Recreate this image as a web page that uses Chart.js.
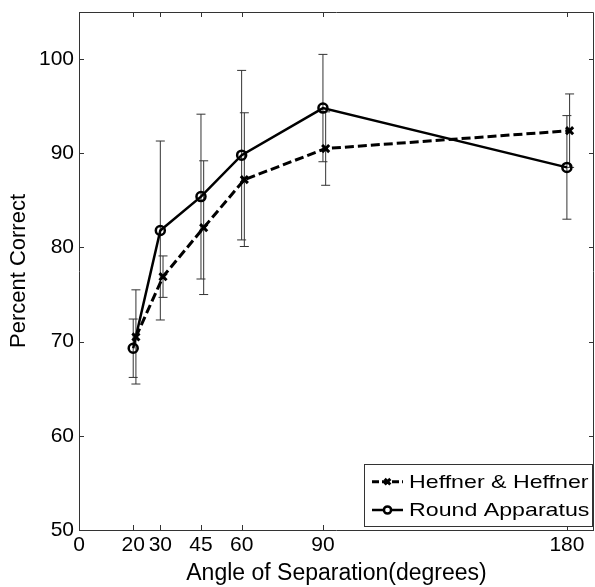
<!DOCTYPE html>
<html>
<head>
<meta charset="utf-8">
<script src="https://cdn.jsdelivr.net/npm/chart.js@4.4.0/dist/chart.umd.min.js"></script>
<style>
  html, body { margin: 0; padding: 0; background: #fff; }
  #wrap { width: 595px; height: 587px; }
</style>
</head>
<body>
<div id="wrap"><canvas id="chart" width="595" height="587"></canvas></div>
<script>
// angles tested (degrees)
const angles = [20, 30, 45, 60, 90, 180];
// Heffner points sit slightly right of the tick in the original figure
const heffnerX = [21, 31, 46, 61, 91, 181];
const heffner = [70.5, 76.9, 82.1, 87.2, 90.5, 92.4];
const heffnerErr = [5.0, 2.2, 7.1, 7.1, 3.9, 3.9];
const roundApp = [69.3, 81.8, 85.4, 89.8, 94.8, 88.5];
const roundErr = [3.1, 9.5, 8.75, 9.0, 5.7, 5.5];

const xTicks = [0, 20, 30, 45, 60, 90, 180];
const yTicks = [50, 60, 70, 80, 90, 100];

const FONT = "'Liberation Sans', Arial, sans-serif";

// error bars, drawn under the lines
const errorBars = {
  id: 'errorBars',
  beforeDatasetsDraw(chart) {
    const ctx = chart.ctx;
    const y = chart.scales.y;
    ctx.save();
    ctx.strokeStyle = '#333';
    ctx.lineWidth = 1;
    chart.data.datasets.forEach((ds, i) => {
      const meta = chart.getDatasetMeta(i);
      meta.data.forEach((pt, j) => {
        const v = ds.data[j].y, e = ds.errors[j];
        const top = y.getPixelForValue(v + e);
        const bot = y.getPixelForValue(v - e);
        const px = pt.x;
        ctx.beginPath();
        ctx.moveTo(px, top); ctx.lineTo(px, bot);
        ctx.moveTo(px - 4.5, top); ctx.lineTo(px + 4.5, top);
        ctx.moveTo(px - 4.5, bot); ctx.lineTo(px + 4.5, bot);
        ctx.stroke();
      });
    });
    ctx.restore();
  }
};

// box around the plot with inward ticks on all four sides
const frame = {
  id: 'frame',
  afterDraw(chart) {
    const ctx = chart.ctx;
    const a = chart.chartArea;
    const xs = chart.scales.x, ys = chart.scales.y;
    const len = 5;
    ctx.save();
    ctx.strokeStyle = '#333';
    ctx.lineWidth = 1;
    ctx.beginPath();
    ctx.rect(a.left + 0.5, a.top + 0.5, a.right - a.left - 1, a.bottom - a.top);
    xTicks.forEach(v => {
      const px = Math.round(xs.getPixelForValue(v)) + 0.5;
      ctx.moveTo(px, a.bottom); ctx.lineTo(px, a.bottom - len);
      ctx.moveTo(px, a.top); ctx.lineTo(px, a.top + len);
    });
    yTicks.forEach(v => {
      const py = Math.round(ys.getPixelForValue(v)) + 0.5;
      ctx.moveTo(a.left, py); ctx.lineTo(a.left + len, py);
      ctx.moveTo(a.right, py); ctx.lineTo(a.right - len, py);
    });
    ctx.stroke();
    ctx.restore();
  }
};

// legend box in the lower right corner of the plot
const boxLegend = {
  id: 'boxLegend',
  afterDraw(chart) {
    const ctx = chart.ctx;
    const a = chart.chartArea;
    const w = 228, h = 62;
    const bx = a.right - 2 - w, by = a.bottom - 4 - h;
    ctx.save();
    ctx.fillStyle = '#fff';
    ctx.fillRect(bx, by, w, h);
    ctx.strokeStyle = '#333';
    ctx.lineWidth = 1;
    ctx.strokeRect(bx + 0.5, by + 0.5, w, h);
    const rows = [by + 17.7, by + 46];
    chart.data.datasets.forEach((ds, i) => {
      const ry = rows[i];
      ctx.save();
      ctx.strokeStyle = '#000';
      ctx.lineWidth = ds.borderWidth;
      ctx.setLineDash(ds.legendDash || []);
      ctx.beginPath();
      ctx.moveTo(bx + 8, ry); ctx.lineTo(bx + 39, ry);
      ctx.stroke();
      ctx.setLineDash([]);
      ctx.lineWidth = ds.pointBorderWidth;
      ctx.fillStyle = '#fff';
      Chart.helpers.drawPoint(ctx, {
        pointStyle: ds.pointStyle, radius: ds.pointRadius * 0.8, rotation: 0, borderWidth: ds.pointBorderWidth
      }, bx + 23.5, ry);
      ctx.restore();

      ctx.save();
      ctx.fillStyle = '#000';
      ctx.font = '19px ' + FONT;
      ctx.textBaseline = 'middle';
      ctx.translate(bx + 45, ry + 1);
      ctx.scale(1.22, 1);
      ctx.fillText(ds.label, 0, 0);
      ctx.restore();
    });
    ctx.restore();
  }
};

new Chart(document.getElementById('chart'), {
  type: 'line',
  data: {
    datasets: [
      {
        label: 'Heffner & Heffner',
        data: heffnerX.map((x, i) => ({ x: x, y: heffner[i] })),
        errors: heffnerErr,
        borderColor: '#000',
        backgroundColor: '#000',
        borderWidth: 3,
        borderDash: [9, 4],
        legendDash: [7, 3],
        pointStyle: 'crossRot',
        pointRadius: 5,
        pointBorderWidth: 3,
        pointBorderColor: '#000',
        tension: 0
      },
      {
        label: 'Round Apparatus',
        data: angles.map((x, i) => ({ x: x, y: roundApp[i] })),
        errors: roundErr,
        borderColor: '#000',
        backgroundColor: 'rgba(0,0,0,0)',
        borderWidth: 2.5,
        pointStyle: 'circle',
        pointRadius: 4.5,
        pointBorderWidth: 2.5,
        pointBorderColor: '#000',
        pointBackgroundColor: 'rgba(0,0,0,0)',
        tension: 0
      }
    ]
  },
  options: {
    responsive: false,
    animation: false,
    devicePixelRatio: 1,
    layout: { autoPadding: false, padding: { top: 12, right: 1, left: 0, bottom: 0 } },
    plugins: {
      legend: { display: false },
      tooltip: { enabled: false }
    },
    scales: {
      x: {
        type: 'linear',
        min: 0,
        max: 190,
        afterBuildTicks: s => { s.ticks = xTicks.map(v => ({ value: v })); },
        afterFit: s => { s.height = 57; s.paddingLeft = 0; s.paddingRight = 0; },
        grid: { display: false, drawTicks: false },
        border: { display: false },
        ticks: {
          autoSkip: false,
          maxRotation: 0,
          padding: 3,
          color: '#000',
          font: { family: FONT, size: 21 }
        },
        title: {
          display: true,
          text: 'Angle of Separation(degrees)',
          color: '#000',
          font: { family: FONT, size: 23 },
          padding: { top: 0, bottom: 0 }
        }
      },
      y: {
        min: 50,
        max: 105,
        afterBuildTicks: s => { s.ticks = yTicks.map(v => ({ value: v })); },
        afterFit: s => { s.width = 79; s.paddingTop = 0; s.paddingBottom = 0; },
        grid: { display: false, drawTicks: false },
        border: { display: false },
        ticks: {
          padding: 5,
          color: '#000',
          font: { family: FONT, size: 21 }
        },
        title: {
          display: true,
          text: 'Percent Correct',
          color: '#000',
          font: { family: FONT, size: 22 },
          padding: { top: 6, bottom: 0 }
        }
      }
    }
  },
  plugins: [errorBars, frame, boxLegend]
});
</script>
</body>
</html>
